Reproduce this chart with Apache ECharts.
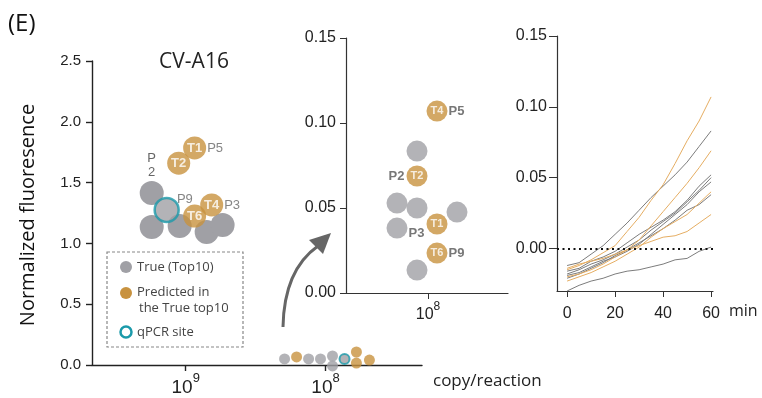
<!DOCTYPE html>
<html><head><meta charset="utf-8">
<script src="https://cdn.jsdelivr.net/npm/echarts@6/dist/echarts.min.js"></script>
<style>html,body{margin:0;padding:0;background:#fff}#c{width:762px;height:398px}</style>
</head><body><div id="c"></div>
<script>
// ---------- DATA ----------
// Left panel: x = log10(copy/reaction), y = normalized fluorescence
const hiTrueLog  = [9.243, 9.243, 9.043, 8.850, 8.736];
const hiTrueFl   = [1.415, 1.135, 1.143, 1.094, 1.151];
const hiTrueTags = ['P\n2', '', '', '', ''];
const hiQpcrLog  = [9.136];
const hiQpcrFl   = [1.275];
const hiQpcrTags = ['P9'];
const hiPredLog  = [8.936, 9.050, 8.814, 8.936];
const hiPredFl   = [1.785, 1.660, 1.316, 1.225];
const hiPredIds  = ['T1', 'T2', 'T4', 'T6'];
const hiPredTags = ['P5', '', 'P3', ''];

const loTrueLog = [8.293, 8.121, 8.036, 7.950, 7.950];
const loTrueFl  = [0.050, 0.050, 0.050, 0.074, -0.008];
const loQpcrLog = [7.864];
const loQpcrFl  = [0.050];
const loPredLog = [8.207, 7.779, 7.779, 7.686];
const loPredFl  = [0.066, 0.107, 0.016, 0.041];

// Middle (zoomed) panel
const zTrueLog  = [8.055, 8.155, 8.055, 7.855, 8.155, 8.055];
const zTrueFl   = [0.0835, 0.0529, 0.0500, 0.0476, 0.0382, 0.0135];
const zTrueTags = ['', '', '', '', 'P3', ''];
const zPredLog  = [7.955, 8.055, 7.955, 7.955];
const zPredFl   = [0.107, 0.0688, 0.0406, 0.0235];
const zPredIds  = ['T4', 'T2', 'T1', 'T6'];
const zPredTagsR = ['P5', '', '', 'P9'];
const zPredTagsL = ['', 'P2', '', ''];

// Right panel: time courses
const minutes = [0, 5, 10, 15, 20, 25, 30, 35, 40, 45, 50, 55, 60];
const predCurves = [
  [-0.015, -0.012, -0.008, -0.003, 0.002, 0.012, 0.022, 0.034, 0.045, 0.060, 0.076, 0.090, 0.107],
  [-0.020, -0.018, -0.015, -0.011, -0.006, -0.001, 0.006, 0.016, 0.026, 0.036, 0.046, 0.057, 0.069],
  [-0.023, -0.020, -0.017, -0.013, -0.009, -0.004, 0.001, 0.008, 0.014, 0.019, 0.024, 0.032, 0.040],
  [-0.014, -0.011, -0.009, -0.007, -0.004, -0.001, 0.002, 0.005, 0.008, 0.009, 0.012, 0.018, 0.024]
];
const trueCurves = [
  [-0.012, -0.010, -0.004, 0.002, 0.010, 0.018, 0.027, 0.036, 0.044, 0.052, 0.061, 0.072, 0.083],
  [-0.016, -0.014, -0.009, -0.006, -0.002, 0.004, 0.010, 0.015, 0.020, 0.026, 0.034, 0.044, 0.052],
  [-0.018, -0.015, -0.011, -0.008, -0.004, 0.001, 0.006, 0.013, 0.019, 0.025, 0.033, 0.041, 0.050],
  [-0.019, -0.017, -0.013, -0.009, -0.006, -0.002, 0.003, 0.010, 0.017, 0.024, 0.031, 0.040, 0.047],
  [-0.021, -0.018, -0.014, -0.010, -0.005, -0.001, 0.004, 0.009, 0.014, 0.020, 0.027, 0.031, 0.038],
  [-0.030, -0.026, -0.023, -0.021, -0.018, -0.016, -0.015, -0.013, -0.011, -0.008, -0.007, -0.002, 0.001]
];

// Ticks
const leftYTicks = [0, 0.5, 1.0, 1.5, 2.0, 2.5];
const leftXExp = [9, 8];
const midXExp = [8];
const fracTicks = [0, 0.05, 0.10, 0.15];
const minTicks = [0, 20, 40, 60];

// ---------- STYLE ----------
const ORANGE = '#c8923f', ORANGE_L = '#e5ad62', GREY = '#a0a0a5', GREY_L = '#7c7c7c', TEAL = '#1b9aaa';
const TICKF = '"Liberation Sans", Arial, sans-serif';
const TXTF = '"Open Sans", "Noto Sans", sans-serif';

const pts = (xs, ys, extra) => xs.map((x, i) => extra ? [x, ys[i], extra[i]] : [x, ys[i]]);
const supLabel = (size, supSize) => ({
  formatter: v => '{b|10}{s|' + v + '}',
  rich: {
    b: { fontSize: size, fontFamily: TICKF, color: '#222', verticalAlign: 'bottom', lineHeight: size + 6 },
    s: { fontSize: supSize, fontFamily: TICKF, color: '#222', verticalAlign: 'top', lineHeight: supSize }
  }
});
const axisLineS = { show: true, onZero: false, lineStyle: { color: '#222', width: 1.4 } };

const chart = echarts.init(document.getElementById('c'), null, { renderer: 'canvas' });

const series = [];
// Left panel high-concentration points
series.push({ type: 'scatter', xAxisIndex: 0, yAxisIndex: 0, symbolSize: 24, clip: false,
  itemStyle: { color: GREY, opacity: 1 }, data: pts(hiTrueLog, hiTrueFl, hiTrueTags),
  label: { show: true, position: 'top', distance: 2, formatter: p => p.value[2], color: '#666', fontFamily: TICKF, fontSize: 13, lineHeight: 14 } });
series.push({ type: 'scatter', xAxisIndex: 0, yAxisIndex: 0, symbolSize: 24, clip: false,
  itemStyle: { color: GREY, borderColor: TEAL, borderWidth: 2.5 }, data: pts(hiQpcrLog, hiQpcrFl, hiQpcrTags),
  label: { show: true, position: 'right', distance: 0, offset: [-3, -11], formatter: p => p.value[2], color: '#666', fontFamily: TICKF, fontSize: 13 } });
series.push({ type: 'scatter', xAxisIndex: 0, yAxisIndex: 0, symbolSize: 23, clip: false, z: 3,
  itemStyle: { color: ORANGE }, data: pts(hiPredLog, hiPredFl, hiPredIds),
  label: { show: true, position: 'inside', formatter: p => p.value[2], color: '#fff', fontWeight: 'bold', fontFamily: TICKF, fontSize: 13 } });
series.push({ type: 'scatter', xAxisIndex: 0, yAxisIndex: 0, symbolSize: 1, clip: false, z: 3,
  itemStyle: { color: 'rgba(0,0,0,0)' }, data: pts(hiPredLog, hiPredFl, hiPredTags),
  label: { show: true, position: 'right', distance: 12, formatter: p => p.value[2], color: '#666', fontFamily: TICKF, fontSize: 13 } });
// Left panel low-concentration points
series.push({ type: 'scatter', xAxisIndex: 0, yAxisIndex: 0, symbolSize: 11, clip: false,
  itemStyle: { color: GREY }, data: pts(loTrueLog, loTrueFl) });
series.push({ type: 'scatter', xAxisIndex: 0, yAxisIndex: 0, symbolSize: 11, clip: false,
  itemStyle: { color: ORANGE }, data: pts(loPredLog, loPredFl) });
series.push({ type: 'scatter', xAxisIndex: 0, yAxisIndex: 0, symbolSize: 10, clip: false,
  itemStyle: { color: GREY, borderColor: TEAL, borderWidth: 2 }, data: pts(loQpcrLog, loQpcrFl) });

// Middle panel
series.push({ type: 'scatter', xAxisIndex: 1, yAxisIndex: 1, symbolSize: 21, clip: false,
  itemStyle: { color: GREY }, data: pts(zTrueLog, zTrueFl, zTrueTags),
  label: { show: true, position: 'right', distance: 1, offset: [0, 5], formatter: p => p.value[2], color: '#555', fontWeight: 'bold', fontFamily: TICKF, fontSize: 13 } });
series.push({ type: 'scatter', xAxisIndex: 1, yAxisIndex: 1, symbolSize: 21, clip: false,
  itemStyle: { color: ORANGE }, data: pts(zPredLog, zPredFl, zPredIds),
  label: { show: true, position: 'inside', formatter: p => p.value[2], color: '#fff', fontWeight: 'bold', fontFamily: TICKF, fontSize: 11 } });
series.push({ type: 'scatter', xAxisIndex: 1, yAxisIndex: 1, symbolSize: 1, clip: false,
  itemStyle: { color: 'rgba(0,0,0,0)' }, data: pts(zPredLog, zPredFl, zPredTagsR),
  label: { show: true, position: 'right', distance: 11, formatter: p => p.value[2], color: '#555', fontWeight: 'bold', fontFamily: TICKF, fontSize: 13 } });
series.push({ type: 'scatter', xAxisIndex: 1, yAxisIndex: 1, symbolSize: 1, clip: false,
  itemStyle: { color: 'rgba(0,0,0,0)' }, data: pts(zPredLog, zPredFl, zPredTagsL),
  label: { show: true, position: 'left', distance: 12, formatter: p => p.value[2], color: '#555', fontWeight: 'bold', fontFamily: TICKF, fontSize: 13 } });

// Right panel curves
trueCurves.forEach((c, k) => {
  const s = { type: 'line', xAxisIndex: 2, yAxisIndex: 2, showSymbol: false, silent: true,
    lineStyle: { color: GREY_L, width: 1 }, data: pts(minutes, c) };
  if (k === 0) s.markLine = { silent: true, symbol: 'none', label: { show: false },
    lineStyle: { color: '#111', width: 2, type: [2, 3.5] }, data: [{ yAxis: 0 }] };
  series.push(s);
});
predCurves.forEach(c => series.push({ type: 'line', xAxisIndex: 2, yAxisIndex: 2, showSymbol: false, silent: true,
  lineStyle: { color: ORANGE_L, width: 1 }, data: pts(minutes, c) }));

const option = {
  animation: false,
  grid: [
    { left: 92, top: 61, width: 330, height: 304 },
    { left: 346, top: 38, width: 162, height: 255 },
    { left: 557, top: 36, width: 156, height: 255 }
  ],
  xAxis: [
    { gridIndex: 0, type: 'value', inverse: true, min: 7.31, max: 9.67, splitLine: { show: false },
      axisLine: axisLineS, axisTick: { show: true, length: 6, customValues: leftXExp, lineStyle: { color: '#222', width: 1.4 } },
      axisLabel: Object.assign({ customValues: leftXExp, margin: 7 }, supLabel(19, 13)) },
    { gridIndex: 1, type: 'value', inverse: true, min: 7.6, max: 8.41, splitLine: { show: false },
      axisLine: { show: true, onZero: false, lineStyle: { color: '#333', width: 1.2 } },
      axisTick: { show: true, length: 6, customValues: midXExp, lineStyle: { color: '#333' } },
      axisLabel: Object.assign({ customValues: midXExp, margin: 8 }, supLabel(16, 12)) },
    { gridIndex: 2, type: 'value', min: -4.2, max: 60.8, splitLine: { show: false },
      axisLine: { show: true, onZero: false, lineStyle: { color: '#333', width: 1.2 } },
      axisTick: { show: true, length: 6, customValues: minTicks, lineStyle: { color: '#333' } },
      axisLabel: { customValues: minTicks, fontSize: 16, fontFamily: TICKF, color: '#222', margin: 15 } }
  ],
  yAxis: [
    { gridIndex: 0, type: 'value', min: 0, max: 2.5, splitLine: { show: false },
      axisLine: axisLineS, axisTick: { show: true, length: 6, customValues: leftYTicks, lineStyle: { color: '#222', width: 1.4 } },
      axisLabel: { customValues: leftYTicks, formatter: v => v.toFixed(1), fontSize: 15, fontFamily: TICKF, color: '#222', margin: 11 } },
    { gridIndex: 1, type: 'value', min: 0, max: 0.15, splitLine: { show: false },
      axisLine: { show: true, onZero: false, lineStyle: { color: '#333', width: 1.2 } },
      axisTick: { show: true, length: 6, customValues: fracTicks, lineStyle: { color: '#333' } },
      axisLabel: { customValues: fracTicks, formatter: v => v.toFixed(2), fontSize: 16, fontFamily: TICKF, color: '#222', margin: 10 } },
    { gridIndex: 2, type: 'value', min: -0.03, max: 0.15, splitLine: { show: false },
      axisLine: { show: true, onZero: false, lineStyle: { color: '#333', width: 1.2 } },
      axisTick: { show: true, length: 8, customValues: fracTicks, lineStyle: { color: '#333' } },
      axisLabel: { customValues: fracTicks, formatter: v => v.toFixed(2), fontSize: 16, fontFamily: TICKF, color: '#222', margin: 10 } }
  ],
  graphic: [
    { type: 'text', left: 8, top: 12, style: { text: '(E)', fontSize: 24, fontFamily: TXTF, fill: '#111' } },
    { type: 'text', x: 194, y: 62, style: { text: 'CV-A16', fontSize: 21, fontFamily: TXTF, fill: '#222', align: 'center', verticalAlign: 'middle' } },
    { type: 'text', x: 28, y: 215, rotation: Math.PI / 2, style: { text: 'Normalized fluoresence', fontSize: 20, fontFamily: TXTF, fill: '#111', align: 'center', verticalAlign: 'middle' } },
    { type: 'text', x: 433, y: 381, style: { text: 'copy/reaction', fontSize: 17, fontFamily: TXTF, fill: '#222', align: 'left', verticalAlign: 'middle' } },
    { type: 'text', x: 729, y: 311, style: { text: 'min', fontSize: 16, fontFamily: TXTF, fill: '#222', align: 'left', verticalAlign: 'middle' } },
    // legend box
    { type: 'rect', shape: { x: 107, y: 252, width: 136, height: 95 }, style: { fill: 'none', stroke: '#888', lineWidth: 1.2, lineDash: [3, 2] } },
    { type: 'circle', shape: { cx: 126, cy: 267, r: 6 }, style: { fill: GREY } },
    { type: 'text', x: 137, y: 267, style: { text: 'True (Top10)', fontSize: 13, fontFamily: TXTF, fill: '#444', verticalAlign: 'middle' } },
    { type: 'circle', shape: { cx: 126, cy: 293, r: 6 }, style: { fill: ORANGE } },
    { type: 'text', x: 137, y: 292, style: { text: 'Predicted in', fontSize: 13, fontFamily: TXTF, fill: '#444', verticalAlign: 'middle' } },
    { type: 'text', x: 139, y: 308, style: { text: 'the True top10', fontSize: 13, fontFamily: TXTF, fill: '#444', verticalAlign: 'middle' } },
    { type: 'circle', shape: { cx: 126, cy: 332, r: 5.5 }, style: { fill: '#fff', stroke: TEAL, lineWidth: 2.5 } },
    { type: 'text', x: 137, y: 332, style: { text: 'qPCR site', fontSize: 13, fontFamily: TXTF, fill: '#444', verticalAlign: 'middle' } },
    // arrow
    { type: 'bezierCurve', shape: { x1: 283, y1: 327, x2: 318, y2: 246, cpx1: 284, cpy1: 270 }, style: { fill: 'none', stroke: '#666', lineWidth: 3 } },
    { type: 'polygon', shape: { points: [[331, 233], [309, 240], [323, 254]] }, style: { fill: '#666' } }
  ],
  series: series
};
chart.setOption(option);
</script></body></html>
